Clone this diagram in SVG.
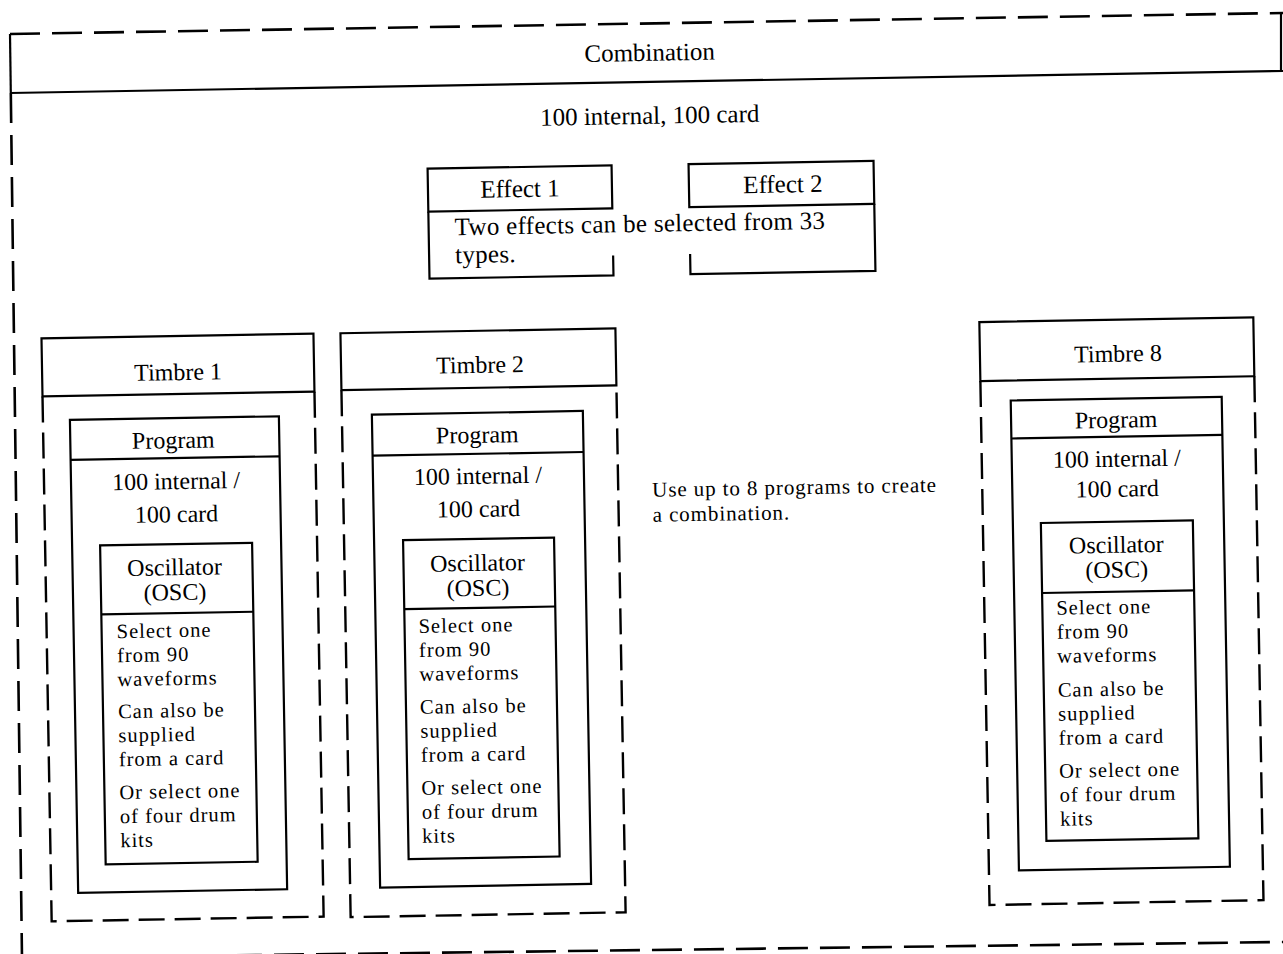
<svg xmlns="http://www.w3.org/2000/svg" width="1283" height="954" viewBox="0 0 1283 954">
<style>
.t{font-family:"Liberation Serif","Times New Roman",serif;font-size:24px;fill:#000}
.b{font-family:"Liberation Serif","Times New Roman",serif;font-size:20.5px;letter-spacing:1px;fill:#000}
.n{font-family:"Liberation Serif","Times New Roman",serif;font-size:21px;letter-spacing:0.9px;fill:#000}
.tl{font-family:"Liberation Serif","Times New Roman",serif;font-size:25px;fill:#000}
.c{text-anchor:middle}
.s{fill:none;stroke:#000;stroke-width:2.2}
.d{fill:none;stroke:#000;stroke-width:2.4;stroke-dasharray:26 10}
.od{fill:none;stroke:#000;stroke-width:2.6;stroke-dasharray:30 12}
</style>
<rect width="1283" height="954" fill="#fff"/>
<g id="combination-frame">
  <line class="od" x1="10" y1="34" x2="1283" y2="13"/>
  <line class="s" x1="10" y1="34" x2="10.8" y2="93"/>
  <line class="s" x1="1281" y1="13" x2="1281" y2="71"/>
  <line class="s" x1="10" y1="93" x2="1283" y2="71"/>
  <line class="od" x1="10.8" y1="93" x2="22" y2="958"/>
  <line class="od" x1="22" y1="958" x2="1283" y2="942"/>
</g>
<g transform="rotate(-1 640 477)">
  <g id="combination-labels">
    <text class="tl c" x="657" y="61">Combination</text>
    <text class="tl c" x="656" y="124">100 internal, 100 card</text>
  </g>
  <g id="effect-1">
    <rect class="s" x="433" y="165" width="184" height="43"/>
    <path class="s" d="M433,208 V275 H617 V255"/>
    <text class="tl c" x="525" y="195">Effect 1</text>
  </g>
  <g id="effect-2">
    <rect class="s" x="694" y="165" width="185" height="43"/>
    <path class="s" d="M694,255 V275 H879 V208"/>
    <text class="tl c" x="788" y="195">Effect 2</text>
  </g>
  <g id="effects-description">
    <text class="tl" x="459" y="232" style="letter-spacing:0.3px">Two effects can be selected from 33</text>
    <text class="tl" x="459" y="260" style="letter-spacing:0.3px">types.</text>
  </g>
  <g id="timbre-1">
    <rect class="s" x="44" y="328" width="272" height="58"/>
    <path class="d" d="M44,386 V911 H316 V386"/>
    <text class="t c" x="180" y="372">Timbre 1</text>
    <g id="program-1">
      <rect class="s" x="71" y="410" width="209" height="473"/>
      <line class="s" x1="71" y1="450" x2="280" y2="450"/>
      <text class="t c" x="174" y="440">Program</text>
      <text class="t c" x="176" y="481">100 internal /</text>
      <text class="t c" x="176" y="514">100 card</text>
    </g>
    <g id="osc-1">
      <rect class="s" x="99" y="536" width="152" height="319"/>
      <line class="s" x1="99" y1="605" x2="251" y2="605"/>
      <text class="t c" x="173" y="567">Oscillator</text>
      <text class="t c" x="173" y="592">(OSC)</text>
      <text class="b" x="114" y="629">Select one</text>
      <text class="b" x="114" y="653">from 90</text>
      <text class="b" x="114" y="677">waveforms</text>
      <text class="b" x="114" y="709">Can also be</text>
      <text class="b" x="114" y="733">supplied</text>
      <text class="b" x="114" y="757">from a card</text>
      <text class="b" x="114" y="790">Or select one</text>
      <text class="b" x="114" y="814">of four drum</text>
      <text class="b" x="114" y="838">kits</text>
    </g>
  </g>
  <g id="timbre-2">
    <rect class="s" x="343" y="328" width="275" height="57"/>
    <path class="d" d="M343,385 V912 H618 V385"/>
    <text class="t c" x="482" y="370">Timbre 2</text>
    <g id="program-2">
      <rect class="s" x="373" y="410" width="211" height="473"/>
      <line class="s" x1="373" y1="451" x2="584" y2="451"/>
      <text class="t c" x="478" y="440">Program</text>
      <text class="t c" x="478" y="481">100 internal /</text>
      <text class="t c" x="478" y="514">100 card</text>
    </g>
    <g id="osc-2">
      <rect class="s" x="402" y="536" width="151" height="319"/>
      <line class="s" x1="402" y1="605" x2="553" y2="605"/>
      <text class="t c" x="476" y="568">Oscillator</text>
      <text class="t c" x="476" y="593">(OSC)</text>
      <text class="b" x="416" y="629">Select one</text>
      <text class="b" x="416" y="653">from 90</text>
      <text class="b" x="416" y="677">waveforms</text>
      <text class="b" x="416" y="710">Can also be</text>
      <text class="b" x="416" y="734">supplied</text>
      <text class="b" x="416" y="758">from a card</text>
      <text class="b" x="416" y="791">Or select one</text>
      <text class="b" x="416" y="815">of four drum</text>
      <text class="b" x="416" y="839">kits</text>
    </g>
  </g>
  <g id="note">
    <text class="n" x="652" y="497">Use up to 8 programs to create</text>
    <text class="n" x="652" y="522">a combination.</text>
  </g>
  <g id="timbre-8">
    <rect class="s" x="982" y="328" width="274" height="59"/>
    <path class="d" d="M982,387 V911 H1256 V387"/>
    <text class="t c" x="1120" y="370">Timbre 8</text>
    <g id="program-8">
      <rect class="s" x="1012" y="407" width="211" height="470"/>
      <line class="s" x1="1012" y1="445" x2="1223" y2="445"/>
      <text class="t c" x="1117" y="436">Program</text>
      <text class="t c" x="1117" y="475">100 internal /</text>
      <text class="t c" x="1117" y="505">100 card</text>
    </g>
    <g id="osc-8">
      <rect class="s" x="1040" y="530" width="152" height="318"/>
      <line class="s" x1="1040" y1="600" x2="1192" y2="600"/>
      <text class="t c" x="1115" y="561">Oscillator</text>
      <text class="t c" x="1115" y="586">(OSC)</text>
      <text class="b" x="1054" y="622">Select one</text>
      <text class="b" x="1054" y="646">from 90</text>
      <text class="b" x="1054" y="670">waveforms</text>
      <text class="b" x="1054" y="704">Can also be</text>
      <text class="b" x="1054" y="728">supplied</text>
      <text class="b" x="1054" y="752">from a card</text>
      <text class="b" x="1054" y="785">Or select one</text>
      <text class="b" x="1054" y="809">of four drum</text>
      <text class="b" x="1054" y="833">kits</text>
    </g>
  </g>
</g>
</svg>
